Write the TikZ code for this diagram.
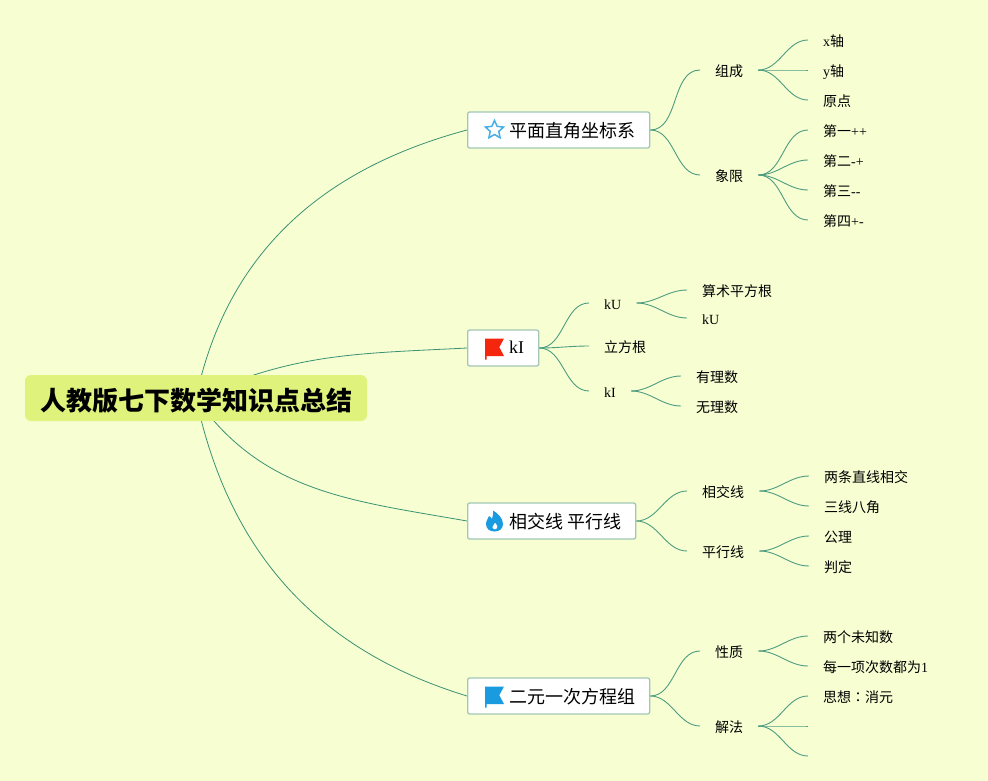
\documentclass[tikz,border=0pt]{standalone}
\usepackage{fontspec}
\setmainfont{Liberation Serif}
\newfontfamily\zh{Noto Sans CJK SC}
\newfontfamily\zhtc{Noto Sans CJK TC}
\usetikzlibrary{shapes.geometric,backgrounds}
\definecolor{bgc}{HTML}{F7FED2}
\definecolor{lnk}{HTML}{3A9273}
\definecolor{rootc}{HTML}{DFF37C}
\definecolor{edgec}{HTML}{A3C7B4}
\definecolor{sky}{HTML}{1A9BE0}
\definecolor{flagr}{HTML}{F4260E}
\tikzset{
  rootbox/.style={fill=rootc,rounded corners=6pt,inner xsep=15pt,inner ysep=0pt,minimum height=46pt,text height=27pt,text depth=3pt,font=\zh\bfseries\fontsize{26}{30}\selectfont},
  topic/.style={draw=edgec,line width=1.3pt,fill=white,rounded corners=2pt,anchor=west,inner xsep=14.5pt,inner ysep=0pt,minimum height=36pt,text height=17pt,text depth=2pt,font=\fontsize{18}{22}\selectfont},
  sub/.style={anchor=west,inner xsep=15pt,inner ysep=0pt,text height=14pt,text depth=1pt,font=\fontsize{14}{17}\selectfont},
  mainl/.style={draw=lnk,line width=0.8pt},
  br/.style={draw=lnk!90,line width=0.9pt,out=0,in=180,looseness=0.95},
  flagpic/.pic={\fill[pic actions] (-9.5,-9.5) -- (9.5,-9.5) -- (4.8,-0.8) -- (9.5,8) -- (-8,8) -- (-8,11.5) -- (-9.5,11.5) -- cycle;},
  flamepic/.pic={\fill[pic actions,even odd rule] (0,10.5) .. controls (-5,10.5) and (-8.5,7.5) .. (-8.5,3) .. controls (-8.5,-1) and (-6,-2) .. (-5.5,-5) .. controls (-3.5,-3.5) and (-3,-3) .. (-2.5,-2) .. controls (-1.5,-5) and (-1,-8) .. (-1.5,-10.5) .. controls (3,-8) and (8.5,-3) .. (8.5,3) .. controls (8.5,7.5) and (5,10.5) .. (0,10.5) -- cycle (0.5,8.5) .. controls (-1.5,8.5) and (-2.5,7) .. (-2,5.5) .. controls (-1.5,4) and (-0.5,3) .. (0.5,1.5) .. controls (1.5,3) and (3,4) .. (3,5.5) .. controls (3,7) and (2,8.5) .. (0.5,8.5) -- cycle;},
}
\begin{document}
\begin{tikzpicture}[x=1pt,y=-1pt]
\useasboundingbox (0,0) rectangle (988,781);
% ---- root ----
\node[rootbox] (root) at (196,398) {人教版七下数学知识点总结};
% ---- topics ----
\node[topic] (t1) at (467,130) {\hspace{27pt}{\zh 平面直角坐标系}};
\node[topic] (t2) at (467,348) {\hspace{27pt}\raisebox{2pt}{kI}};
\node[topic] (t3) at (467,521) {\hspace{27pt}{\zh 相交线 平行线}};
\node[topic] (t4) at (467,696) {\hspace{27pt}{\zh 二元一次方程组}};
\node[star,star points=5,star point ratio=2.1,draw=sky!80,line width=1.5pt,inner sep=0pt,minimum size=19pt] (ic1) at ([xshift=27.5pt]t1.west) {};
\pic[fill=flagr] at ([xshift=27.5pt]t2.west) {flagpic};
\pic[fill=sky] at ([xshift=27.5pt]t3.west) {flamepic};
\pic[fill=sky] at ([xshift=27.5pt]t4.west) {flagpic};
% ---- plane coordinates ----
\node[sub] (zc) at (700,70) {\zh 组成};
\node[sub] (xx) at (700,175) {\zh 象限};
\draw[br] (t1.east) to (zc.west);
\draw[br] (t1.east) to (xx.west);
\foreach \n/\y/\t in {a1/40/x{\zh 轴},a2/70/y{\zh 轴},a3/100/{\zh 原点}}{
  \node[sub] (\n) at (808,\y) {\t};
  \draw[br] (zc.east) to (\n.west);
}
\foreach \n/\y/\t in {b1/130/{\zh 第一}++,b2/160/{\zh 第二}-+,b3/190/{\zh 第三}-{}-,b4/220/{\zh 第四}+-}{
  \node[sub] (\n) at (808,\y) {\t};
  \draw[br] (xx.east) to (\n.west);
}
% ---- kI ----
\node[sub] (ku) at (589,303) {kU};
\node[sub] (lf) at (589,346) {\zh 立方根};
\node[sub] (ki) at (589,391) {kI};
\foreach \n in {ku,lf,ki}{\draw[br] (t2.east) to (\n.west);}
\foreach \n/\y/\t in {c1/290/{\zh 算术平方根},c2/318/kU}{
  \node[sub] (\n) at (687,\y) {\t};
  \draw[br] (ku.east) to (\n.west);
}
\foreach \n/\y/\t in {d1/376/{\zh 有理数},d2/406/{\zh 无理数}}{
  \node[sub] (\n) at (681,\y) {\t};
  \draw[br] (ki.east) to (\n.west);
}
% ---- lines ----
\node[sub] (xj) at (687,491) {\zh 相交线};
\node[sub] (px) at (687,551) {\zh 平行线};
\foreach \n in {xj,px}{\draw[br] (t3.east) to (\n.west);}
\foreach \n/\y/\t in {e1/476/{\zh 两条直线相交},e2/506/{\zh 三线八角}}{
  \node[sub] (\n) at (809,\y) {\t};
  \draw[br] (xj.east) to (\n.west);
}
\foreach \n/\y/\t in {f1/536/{\zh 公理},f2/566/{\zh 判定}}{
  \node[sub] (\n) at (809,\y) {\t};
  \draw[br] (px.east) to (\n.west);
}
% ---- equations ----
\node[sub] (xz) at (700,651) {\zh 性质};
\node[sub] (jf) at (700,726) {\zh 解法};
\foreach \n in {xz,jf}{\draw[br] (t4.east) to (\n.west);}
\foreach \n/\y/\t in {g1/636/{\zh 两个未知数},g2/666/{{\zh 每一项次数都为}1}}{
  \node[sub] (\n) at (808,\y) {\t};
  \draw[br] (xz.east) to (\n.west);
}
\node[sub] (h1) at (808,696) {{\zh 思想}{\zhtc ：}{\zh 消元}};
\coordinate (h2) at (808,726);
\coordinate (h3) at (808,756);
\draw[br] (jf.east) to (h1.west);
\draw[br] (jf.east) to (h2);
\draw[br] (jf.east) to (h3);
% ---- behind ----
\begin{scope}[on background layer]
\fill[bgc] (0,0) rectangle (988,781);
\draw[mainl] (root.center) to[out=78,in=195] (t1.west);
\draw[mainl] (root.center) to[out=25,in=183] (t2.west);
\draw[mainl] (root.center) to[out=-55,in=170] (t3.west);
\draw[mainl] (root.center) to[out=-78,in=163] (t4.west);
\end{scope}
\end{tikzpicture}
\end{document}
